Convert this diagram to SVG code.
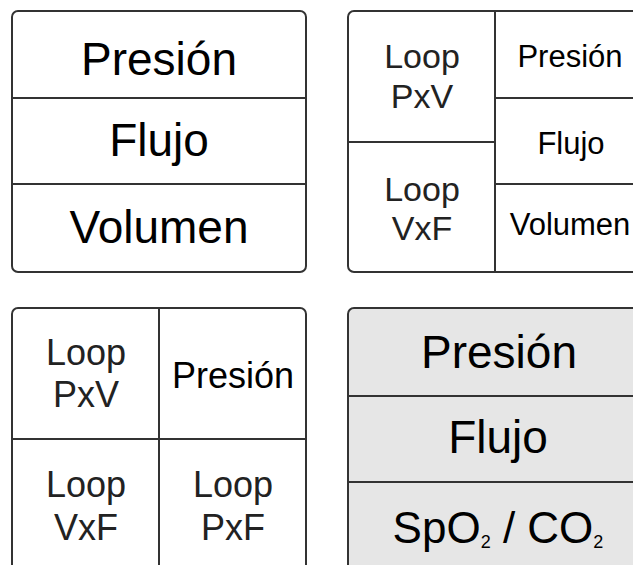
<svg xmlns="http://www.w3.org/2000/svg" width="633" height="565" viewBox="0 0 633 565">
<style>
.box{fill:#fff;stroke:#333;stroke-width:2}
.gray{fill:#e6e6e6}
.div{stroke:#333;stroke-width:2;fill:none}
text{font-family:"Liberation Sans",Arial,sans-serif;text-anchor:middle;fill:#000}
.big{font-size:46px}
.mid{font-size:31px}
.lp{font-size:34px;fill:#222}
.lp3{font-size:36px;fill:#222}
.m3{font-size:36px}
.sub{font-size:18px}
</style>
<rect width="633" height="565" fill="#fff"/>
<g id="panel1">
<rect class="box" x="12" y="11" width="294" height="261" rx="6"/>
<line class="div" x1="12" y1="98" x2="306" y2="98"/>
<line class="div" x1="12" y1="184" x2="306" y2="184"/>
<text class="big" x="159" y="75">Presión</text>
<text class="big" x="159" y="156">Flujo</text>
<text class="big" x="159" y="243">Volumen</text>
</g>
<g id="panel2">
<rect class="box" x="348" y="11" width="300" height="261" rx="6"/>
<line class="div" x1="495" y1="11" x2="495" y2="272"/>
<line class="div" x1="348" y1="142" x2="495" y2="142"/>
<line class="div" x1="495" y1="98" x2="648" y2="98"/>
<line class="div" x1="495" y1="184" x2="648" y2="184"/>
<text class="lp" x="422" y="68">Loop</text>
<text class="lp" x="422" y="108">PxV</text>
<text class="lp" x="422" y="201">Loop</text>
<text class="lp" x="422" y="240">VxF</text>
<text class="mid" x="570" y="67">Presión</text>
<text class="mid" x="571" y="154">Flujo</text>
<text class="mid" x="570" y="235">Volumen</text>
</g>
<g id="panel3">
<rect class="box" x="12" y="308" width="294" height="280" rx="6"/>
<line class="div" x1="159" y1="308" x2="159" y2="565"/>
<line class="div" x1="12" y1="439" x2="306" y2="439"/>
<text class="lp3" x="86" y="365">Loop</text>
<text class="lp3" x="86" y="407">PxV</text>
<text class="m3" x="233" y="388">Presión</text>
<text class="lp3" x="86" y="497">Loop</text>
<text class="lp3" x="86" y="540">VxF</text>
<text class="lp3" x="233" y="497">Loop</text>
<text class="lp3" x="233" y="540">PxF</text>
</g>
<g id="panel4">
<rect class="box gray" x="348" y="308" width="300" height="280" rx="6"/>
<line class="div" x1="348" y1="396" x2="648" y2="396"/>
<line class="div" x1="348" y1="482" x2="648" y2="482"/>
<text class="big" x="499" y="368">Presión</text>
<text class="big" x="498" y="453">Flujo</text>
<text x="498" y="543" font-size="44" fill="#1a1a1a">SpO<tspan class="sub" dy="5">2</tspan><tspan dy="-5"> / CO</tspan><tspan class="sub" dy="5">2</tspan></text>
</g>
</svg>
